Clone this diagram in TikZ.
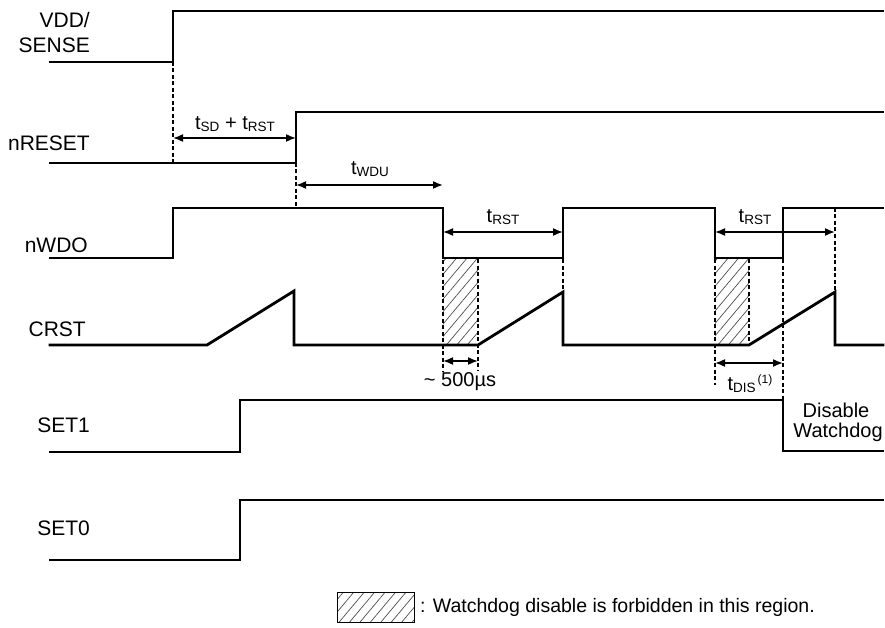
\documentclass[tikz,border=0pt]{standalone}
\usepackage{fontspec}
\setmainfont{Liberation Sans}
\usetikzlibrary{arrows.meta,patterns.meta}
\newcommand{\sbx}[1]{\raisebox{-2.2pt}{\fontsize{13.5}{14}\selectfont #1}}
\tikzset{
  sig/.style={line width=2.8pt,line join=miter,line cap=rect},
  guide/.style={line width=1.1pt,dash pattern=on 4pt off 2.5pt},
  dim/.style={line width=1.6pt,{Latex[length=10pt,width=8pt]}-{Latex[length=10pt,width=8pt]}},
  lbl/.style={font=\fontsize{20}{24}\selectfont,inner sep=0pt},
  signame/.style={font=\fontsize{21}{25}\selectfont,inner sep=0pt,anchor=east},
  hatch/.style={pattern={Lines[angle=50,distance=8pt,line width=0.7pt]},pattern color=black!70},
}
\begin{document}
\begin{tikzpicture}[x=1pt,y=-1pt]
\useasboundingbox (0,0) rectangle (885,628);
% signal names
\node[signame] (nvdd) at (90,20) {VDD/};
\node[signame] (nsense) at (90,45) {SENSE};
\node[signame] (nrst) at (90,143) {nRESET};
\node[signame] (nwdo) at (88,245) {nWDO};
\node[signame] (ncrst) at (86,329) {CRST};
\node[signame] (nset1) at (90,425) {SET1};
\node[signame] (nset0) at (90,528) {SET0};
% hatched regions
\fill[hatch] (443,259) rectangle (478,345);
\fill[hatch] (715,259) rectangle (749,345);
% guide lines
\draw[guide] (173,62) -- (173,163);
\draw[guide] (296,163) -- (296,208);
\draw[guide] (443,208) -- (443,371);
\draw[guide] (478,259) -- (478,371);
\draw[guide] (563,259) -- (563,292);
\draw[guide] (715,259) -- (715,385);
\draw[guide] (749,259) -- (749,345);
\draw[guide] (783,259) -- (783,400);
\draw[guide] (835,208) -- (835,292);
% signals
\draw[sig] (50,62) -- (173,62) -- (173,11) -- (883,11);
\draw[sig] (50,163) -- (296,163) -- (296,112) -- (883,112);
\draw[sig] (50,258) -- (173,258) -- (173,208) -- (443,208) -- (443,258) -- (563,258) -- (563,208) -- (715,208) -- (715,258) -- (783,258) -- (783,208) -- (883,208);
\draw[sig] (50,345) -- (207,345) -- (294,291) -- (294,345) -- (478,345) -- (563,292) -- (563,345) -- (749,345) -- (835,292) -- (835,345) -- (883,345);
\draw[sig] (50,452) -- (240,452) -- (240,400) -- (783,400) -- (783,451) -- (883,451);
\draw[sig] (50,560) -- (240,560) -- (240,500) -- (883,500);
% dimension arrows
\coordinate (a1) at (173,138); \coordinate (b1) at (296,138);
\draw[dim] (a1) -- (b1);
\node[lbl] (tsd) at (235,124) {t\sbx{SD} + t\sbx{RST}};
\coordinate (a2) at (296,185); \coordinate (b2) at (443,185);
\draw[dim] (a2) -- (b2);
\node[lbl] (twdu) at (370,169) {t\sbx{WDU}};
\coordinate (a3) at (443,232); \coordinate (b3) at (563,232);
\draw[dim] (a3) -- (b3);
\node[lbl] (trst1) at (503,217) {t\sbx{RST}};
\coordinate (a4) at (715,232); \coordinate (b4) at (835,232);
\draw[dim] (a4) -- (b4);
\node[lbl] (trst2) at (755,217) {t\sbx{RST}};
\coordinate (a5) at (443,361); \coordinate (b5) at (478,361);
\draw[dim] (a5) -- (b5);
\node[lbl] (t500) at (460,382) {\~{} 500µs};
\coordinate (a6) at (715,363); \coordinate (b6) at (783,363);
\draw[dim] (a6) -- (b6);
\node[lbl] (tdis) at (750,384) {t\sbx{DIS}\raisebox{7pt}{\fontsize{12}{13}\selectfont\,(1)}};
\node[lbl] (dis1) at (836,410) {Disable};
\node[lbl] (dis2) at (838,432) {Watchdog};
% legend
\draw[hatch] (337,592) rectangle (414,622);
\draw[line width=0.8pt] (337,592) rectangle (414,622);
\node[lbl,anchor=west,font=\fontsize{19.5}{23}\selectfont] (leg) at (420,607) {: Watchdog disable is forbidden in this region.};
\end{tikzpicture}
\end{document}
